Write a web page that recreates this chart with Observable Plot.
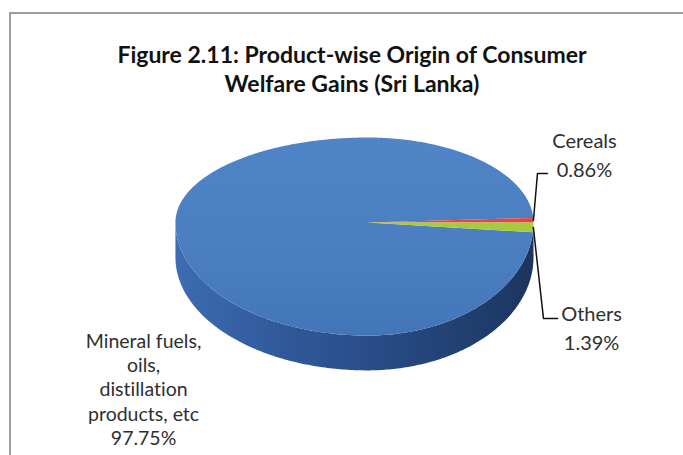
<!DOCTYPE html>
<html>
<head>
<meta charset="utf-8">
<script src="https://cdn.jsdelivr.net/npm/d3@7"></script>
<script src="https://cdn.jsdelivr.net/npm/@observablehq/plot@0.6"></script>
<style>
  html, body { margin: 0; padding: 0; background: #ffffff; overflow: hidden; }
  #wrap { position: relative; width: 683px; height: 455px; overflow: hidden; background: #fff; font-family: Lato, "Open Sans", sans-serif; font-variant-ligatures: none; }
  #frame { position: absolute; left: 9px; top: 12px; width: 740px; height: 520px; border: 2px solid #9c9c9c; box-sizing: border-box; pointer-events: none; z-index: 5; }
  #title { height: 100px; box-sizing: border-box; padding-top: 40px; width: 704px; text-align: center; font-weight: bold; font-size: 23px; line-height: 29px; color: #111; }
  #chart svg { display: block; font-variant-ligatures: none; }
</style>
</head>
<body>
<div id="wrap">
  <div id="frame"></div>
  <div id="title">Figure 2.11: Product-wise Origin of Consumer<br>Welfare Gains (Sri Lanka)</div>
  <div id="chart"></div>
</div>
<script>
// ---- data ----
const categories = ["Mineral fuels, oils, distillation products, etc", "Cereals", "Others"];
const shares = [97.75, 0.86, 1.39];
const labelNames = ["Mineral fuels,\noils,\ndistillation\nproducts, etc", "Cereals", "Others"];

// ---- styles / layout ----
const sliceFills = ["url(#topGrad)", "#e8453f", "#a6cb3c"];
const R = 166;                 // px per pie unit
const CX = 367, CY = 122;      // pie centre in svg px
const LEFT = 1.157, RIGHT = 1, BACK = 0.512, FRONT = 0.681, DEPTH = 0.21;
const START = 5 * Math.PI / 180;
const labelAt = [[-1.349, 1.0], [1.307, -0.416], [1.35, 0.627]];
const leaderElbow = [null, [1.024, -0.295], [1.06, 0.578]];
const leaderEnd = [null, [1.084, -0.295], [1.145, 0.578]];

function pt(t) {
  const c = Math.cos(t), s = Math.sin(t);
  return [c * (c >= 0 ? RIGHT : LEFT), s * (s >= 0 ? FRONT : BACK)];
}

const arcs = d3.pie().sort(null).value(d => d)(shares);
const slices = categories.map((c, i) => ({
  category: c,
  a0: START + arcs[i].startAngle,
  a1: START + arcs[i].endAngle
}));

const polyPts = slices.flatMap(s => {
  const n = Math.max(4, Math.ceil((s.a1 - s.a0) / (Math.PI / 360)));
  const pts = [{category: s.category, x: 0, y: 0}];
  for (let k = 0; k <= n; k++) {
    const [x, y] = pt(s.a0 + (s.a1 - s.a0) * k / n);
    pts.push({category: s.category, x, y});
  }
  pts.push({category: s.category, x: 0, y: 0});
  return pts;
});

const sidePts = [];
const N = 240;
for (let k = 0; k <= N; k++) { const [x, y] = pt(Math.PI * k / N); sidePts.push({x, y}); }
for (let k = N; k >= 0; k--) { const [x, y] = pt(Math.PI * k / N); sidePts.push({x, y: y + DEPTH}); }

const leaderPts = [];
slices.forEach((s, i) => {
  if (!leaderElbow[i]) return;
  const [ex, ey] = pt((s.a0 + s.a1) / 2);
  leaderPts.push({category: s.category, x: ex, y: ey});
  leaderPts.push({category: s.category, x: leaderElbow[i][0], y: leaderElbow[i][1]});
  leaderPts.push({category: s.category, x: leaderEnd[i][0], y: leaderEnd[i][1]});
});

const labels = categories.map((c, i) => ({
  category: c,
  x: labelAt[i][0],
  y: labelAt[i][1],
  text: labelNames[i] + "\n" + d3.format(".2f")(shares[i]) + "%",
  big: i === 0
}));

const defs = () => {
  const d = d3.create("svg:defs");
  const side = d.append("linearGradient").attr("id", "sideGrad").attr("x1", 0).attr("x2", 1).attr("y1", 0).attr("y2", 0);
  [[0, "#3c6cb2"], [0.3, "#30599a"], [0.6, "#274a84"], [0.85, "#203d6c"], [1, "#1c355f"]]
    .forEach(([o, c]) => side.append("stop").attr("offset", o).attr("stop-color", c));
  const top = d.append("linearGradient").attr("id", "topGrad").attr("x1", 0).attr("x2", 0).attr("y1", 0).attr("y2", 1);
  [[0, "#4f84c6"], [0.6, "#4a7ec0"], [1, "#4376b8"]]
    .forEach(([o, c]) => top.append("stop").attr("offset", o).attr("stop-color", c));
  return d.node();
};

const chart = Plot.plot({
  width: 683,
  height: 355,
  margin: 0,
  style: {background: "transparent"},
  x: {domain: [-LEFT, RIGHT], range: [CX - LEFT * R, CX + RIGHT * R], axis: null},
  y: {domain: [-BACK, FRONT], range: [CY - BACK * R, CY + FRONT * R], axis: null},
  color: {domain: categories, range: sliceFills},
  marks: [
    defs,
    Plot.line(sidePts, {x: "x", y: "y", fill: "url(#sideGrad)", stroke: "none", curve: "linear"}),
    Plot.line(polyPts, {x: "x", y: "y", z: "category", fill: "category", stroke: "none", curve: "linear"}),
    Plot.line(leaderPts, {x: "x", y: "y", z: "category", stroke: "#111", strokeWidth: 1.5, curve: "linear"}),
    Plot.text(labels.filter(d => d.big), {x: "x", y: "y", text: "text", textAnchor: "middle", lineAnchor: "middle", lineHeight: 1.25, fontSize: 19.5, fontFamily: "Lato", fill: "#2f2f2f"}),
    Plot.text(labels.filter(d => !d.big), {x: "x", y: "y", text: "text", textAnchor: "middle", lineAnchor: "middle", lineHeight: 1.45, fontSize: 20, fontFamily: "Lato", fill: "#2f2f2f"})
  ]
});
document.getElementById("chart").appendChild(chart);
</script>
</body>
</html>
